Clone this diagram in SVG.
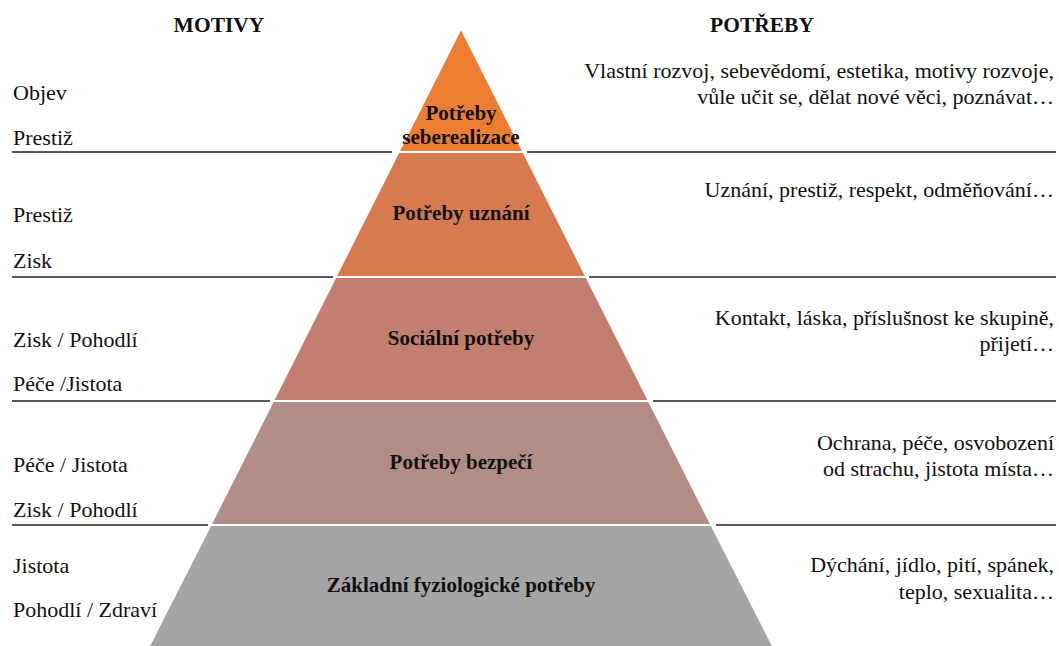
<svg xmlns="http://www.w3.org/2000/svg" width="1059" height="646" viewBox="0 0 1059 646">
<style>
.sep{stroke:#222;stroke-width:1.6;fill:none}
.lay{stroke:#fff;stroke-width:2}
</style>
<rect width="1059" height="646" fill="#fff"/>
<g id="headers" fill="#111" text-anchor="middle">
<text x="219" y="32" style="font-family:'Liberation Serif',serif;font-size:21.5px;font-weight:bold">MOTIVY</text>
<text x="762" y="32" style="font-family:'Liberation Serif',serif;font-size:21.5px;font-weight:bold">POTŘEBY</text>
</g>
<g id="separators">
<line class="sep" x1="12" y1="152" x2="392" y2="152"/><line class="sep" x1="527" y1="152" x2="1056" y2="152"/>
<line class="sep" x1="12" y1="277" x2="333" y2="277"/><line class="sep" x1="589" y1="277" x2="1056" y2="277"/>
<line class="sep" x1="12" y1="401" x2="270" y2="401"/><line class="sep" x1="653" y1="401" x2="1056" y2="401"/>
<line class="sep" x1="12" y1="525" x2="208" y2="525"/><line class="sep" x1="716" y1="525" x2="1056" y2="525"/>
</g>
<g id="level5" fill="#111">
<polygon class="lay" points="461,28 523.5,152 398.5,152" fill="#ED7D31"/>
<text x="461" y="120" text-anchor="middle" style="font-family:'Liberation Serif',serif;font-size:21px;font-weight:bold">Potřeby</text>
<text x="461" y="144" text-anchor="middle" style="font-family:'Liberation Serif',serif;font-size:21px;font-weight:bold">seberealizace</text>
<text x="13" y="100" style="font-family:'Liberation Serif',serif;font-size:22px">Objev</text>
<text x="13" y="145" style="font-family:'Liberation Serif',serif;font-size:22px">Prestiž</text>
<text x="1054" y="78" text-anchor="end" style="font-family:'Liberation Serif',serif;font-size:22px">Vlastní rozvoj, sebevědomí, estetika, motivy rozvoje,</text>
<text x="1054" y="104" text-anchor="end" style="font-family:'Liberation Serif',serif;font-size:22px">vůle učit se, dělat nové věci, poznávat…</text>
</g>
<g id="level4" fill="#111">
<polygon class="lay" points="398.5,152 523.5,152 586.5,277 335.5,277" fill="#D77A50"/>
<text x="461" y="220" text-anchor="middle" style="font-family:'Liberation Serif',serif;font-size:21px;font-weight:bold">Potřeby uznání</text>
<text x="13" y="222" style="font-family:'Liberation Serif',serif;font-size:22px">Prestiž</text>
<text x="13" y="268" style="font-family:'Liberation Serif',serif;font-size:22px">Zisk</text>
<text x="1054" y="197" text-anchor="end" style="font-family:'Liberation Serif',serif;font-size:22px">Uznání, prestiž, respekt, odměňování…</text>
</g>
<g id="level3" fill="#111">
<polygon class="lay" points="335.5,277 586.5,277 649,401 273,401" fill="#C27E6E"/>
<text x="461" y="345" text-anchor="middle" style="font-family:'Liberation Serif',serif;font-size:21px;font-weight:bold">Sociální potřeby</text>
<text x="13" y="347" style="font-family:'Liberation Serif',serif;font-size:22px">Zisk / Pohodlí</text>
<text x="13" y="391" style="font-family:'Liberation Serif',serif;font-size:22px">Péče /Jistota</text>
<text x="1054" y="325" text-anchor="end" style="font-family:'Liberation Serif',serif;font-size:22px">Kontakt, láska, příslušnost ke skupině,</text>
<text x="1054" y="351" text-anchor="end" style="font-family:'Liberation Serif',serif;font-size:22px">přijetí…</text>
</g>
<g id="level2" fill="#111">
<polygon class="lay" points="273,401 649,401 711.5,525 210.5,525" fill="#B28D86"/>
<text x="461" y="469" text-anchor="middle" style="font-family:'Liberation Serif',serif;font-size:21px;font-weight:bold">Potřeby bezpečí</text>
<text x="13" y="472" style="font-family:'Liberation Serif',serif;font-size:22px">Péče / Jistota</text>
<text x="13" y="517" style="font-family:'Liberation Serif',serif;font-size:22px">Zisk / Pohodlí</text>
<text x="1054" y="450" text-anchor="end" style="font-family:'Liberation Serif',serif;font-size:22px">Ochrana, péče, osvobození</text>
<text x="1054" y="476" text-anchor="end" style="font-family:'Liberation Serif',serif;font-size:22px">od strachu, jistota místa…</text>
</g>
<g id="level1" fill="#111">
<polygon class="lay" points="210.5,525 711.5,525 774,648 148,648" fill="#A5A5A5"/>
<text x="461" y="592" text-anchor="middle" style="font-family:'Liberation Serif',serif;font-size:21px;font-weight:bold">Základní fyziologické potřeby</text>
<text x="13" y="573" style="font-family:'Liberation Serif',serif;font-size:22px">Jistota</text>
<text x="13" y="617" style="font-family:'Liberation Serif',serif;font-size:22px">Pohodlí / Zdraví</text>
<text x="1054" y="572" text-anchor="end" style="font-family:'Liberation Serif',serif;font-size:22px">Dýchání, jídlo, pití, spánek,</text>
<text x="1054" y="599" text-anchor="end" style="font-family:'Liberation Serif',serif;font-size:22px">teplo, sexualita…</text>
</g>
</svg>
